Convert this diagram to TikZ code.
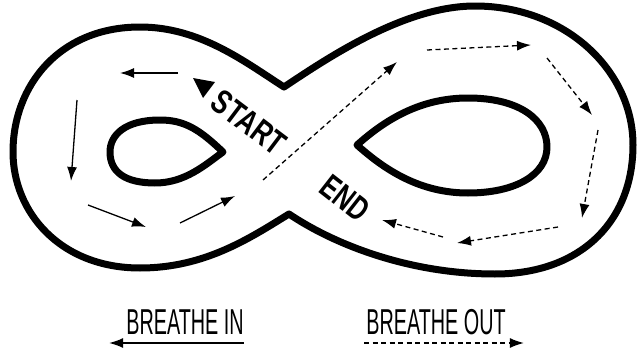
\documentclass[tikz,border=0pt]{standalone}
\usepackage{fontspec}
\setmainfont{Liberation Sans}
\usepackage{tikz}
\usetikzlibrary{arrows.meta,positioning,calc}
\tikzset{
	track/.style={line width=7pt, line join=round},
	inarrow/.style={-{Latex[length=14pt,width=10pt]}, line width=1.3pt},
	outarrow/.style={-{Latex[length=14pt,width=10pt]}, line width=1.3pt, dash pattern=on 5pt off 3.5pt},
	loopword/.style={inner sep=0pt, anchor=base, font=\bfseries\fontsize{34}{35}\selectfont},
	legendword/.style={inner sep=0pt, anchor=base, font=\fontsize{36}{37}\selectfont}
}

\begin{document}
\begin{tikzpicture}[x=1pt, y=-1pt]
	\useasboundingbox (0,0) rectangle (641,356);
	
	%% -- Outer figure eight
	\draw[track] (284,87) .. controls (329,57) and (405,6) .. (475,6)
	.. controls (565,6) and (633,70) .. (633,145)
	.. controls (633,222) and (580,274) .. (495,274)
	.. controls (410,274) and (335,245) .. (289,214)
	.. controls (250,238) and (205,268) .. (140,268)
	.. controls (60,268) and (13,212) .. (13,152)
	.. controls (13,85) and (60,27) .. (140,27)
	.. controls (200,27) and (245,62) .. cycle;
	
	%% -- Inner holes
	\draw[track] (223,152) .. controls (200,130) and (185,120) .. (160,120)
	.. controls (125,120) and (110,135) .. (110,152)
	.. controls (110,172) and (125,183) .. (155,183)
	.. controls (185,183) and (205,165) .. cycle;
	\draw[track] (357,145) .. controls (385,120) and (420,98) .. (468,98)
	.. controls (520,98) and (547,120) .. (547,147)
	.. controls (547,175) and (515,193) .. (468,193)
	.. controls (420,193) and (385,170) .. cycle;
	
	%% -- Breathe in (left loop)
	\draw[inarrow] (178,73) -- (120,73);
	\draw[inarrow] (77,100) -- (71,181);
	\draw[inarrow] (88,205) -- (146,227);
	\draw[inarrow] (180,223) -- (235,196);
	
	%% -- Breathe out (right loop)
	\draw[outarrow] (263,180) -- (397,62);
	\draw[outarrow] (427,50) -- (531,45);
	\draw[outarrow] (547,58) -- (592,115);
	\draw[outarrow] (598,130) -- (582,218);
	\draw[outarrow] (558,227) -- (457,243);
	\draw[outarrow] (443,237) -- (382,220);
	
	%% -- Start / end marks
	\node[loopword, rotate=-37] (start) at (242,132) {\scalebox{0.75}[1]{START}};
	\fill (193,78) -- (215,82) -- (203,98) -- cycle;
	\node[loopword, rotate=-38] (end) at (338,207) {\scalebox{0.72}[1]{END}};
	
	%% -- Legend
	\node[legendword] (inlbl) at (185,334) {\scalebox{0.55}[1]{BREATHE IN}};
	\node[legendword] (outlbl) at (436,334) {\scalebox{0.55}[1]{BREATHE OUT}};
	\draw[inarrow] ([yshift=-9pt]inlbl.base east) -- ([xshift=-17pt, yshift=-9pt]inlbl.base west);
	\draw[outarrow] ([xshift=-2pt, yshift=-9pt]outlbl.base west) -- ([xshift=18pt, yshift=-9pt]outlbl.base east);
	
\end{tikzpicture}
\end{document}
